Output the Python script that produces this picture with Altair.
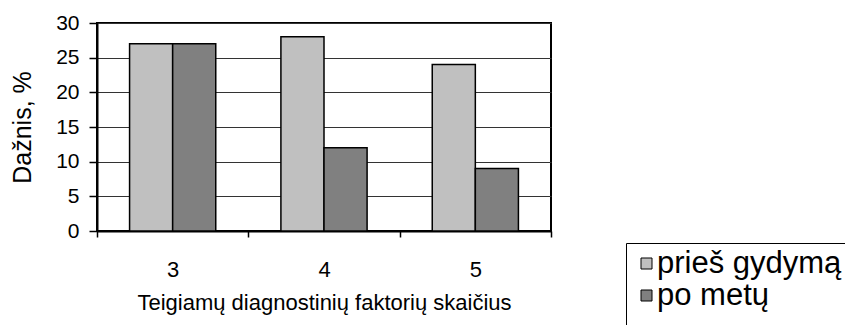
import altair as alt
import pandas as pd

categories = ["3", "4", "5"]
series_names = ["prieš gydymą", "po metų"]
before_values = [27, 28, 24]
after_values = [27, 12, 9]
colors = ["#C0C0C0", "#808080"]

rows = []
for c, b, a in zip(categories, before_values, after_values):
    rows.append({"cat": c, "series": series_names[0], "value": b})
    rows.append({"cat": c, "series": series_names[1], "value": a})
df = pd.DataFrame(rows)

FONT = "Liberation Sans"
NBSP = "\u00a0" * 40

chart = alt.Chart(df).mark_bar(stroke="black", strokeWidth=1.5).encode(
    x=alt.X("cat:N", sort=categories,
            scale=alt.Scale(paddingInner=0, paddingOuter=0),
            axis=alt.Axis(title="Teigiamų diagnostinių faktorių skaičius",
                          labelAngle=0, labelFontSize=22, labelPadding=22,
                          tickBand="extent", tickSize=6, tickColor="black",
                          tickWidth=1.5, domainColor="black", domainWidth=2,
                          titleFontSize=22, titleFontWeight="normal",
                          titlePadding=12, grid=False,
                          labelFont=FONT, titleFont=FONT,
                          labelColor="black", titleColor="black")),
    xOffset=alt.XOffset("series:N", sort=series_names,
                        scale=alt.Scale(paddingInner=0, paddingOuter=0.756)),
    y=alt.Y("value:Q", scale=alt.Scale(domain=[0, 30], nice=False),
            axis=alt.Axis(title="Dažnis, %", values=[0, 5, 10, 15, 20, 25, 30],
                          labelFontSize=21, labelPadding=10, tickSize=8,
                          tickColor="black", tickWidth=1.5,
                          domainColor="black", domainWidth=2,
                          grid=True, gridColor="#333333", gridWidth=1,
                          titleFontSize=25, titleFontWeight="normal",
                          titlePadding=20, labelFont=FONT, titleFont=FONT,
                          labelColor="black", titleColor="black")),
    color=alt.Color("series:N", sort=series_names,
                    scale=alt.Scale(domain=series_names, range=colors),
                    legend=alt.Legend(title=NBSP, titleOrient="bottom",
                                      titleFontSize=30, titleFont=FONT,
                                      titleLimit=1000,
                                      orient="none",
                                      legendX=529, legendY=220,
                                      symbolType="square", symbolSize=121,
                                      symbolStrokeColor="black",
                                      symbolStrokeWidth=1, symbolOffset=0,
                                      labelFontSize=31, labelFont=FONT,
                                      labelColor="black", rowPadding=0,
                                      labelLimit=400,
                                      strokeColor="black", fillColor="white",
                                      padding=5,
                                      labelOffset={"expr": "-5"})),
).properties(
    width=454, height=208,
    background="white",
    autosize=alt.AutoSizeParams(type="none"),
    padding={"left": 97, "top": 23, "right": 294, "bottom": 94},
).configure_view(
    stroke="black", strokeWidth=2
)

chart.save("out.html", embed_options={"renderer": "svg", "actions": False})
